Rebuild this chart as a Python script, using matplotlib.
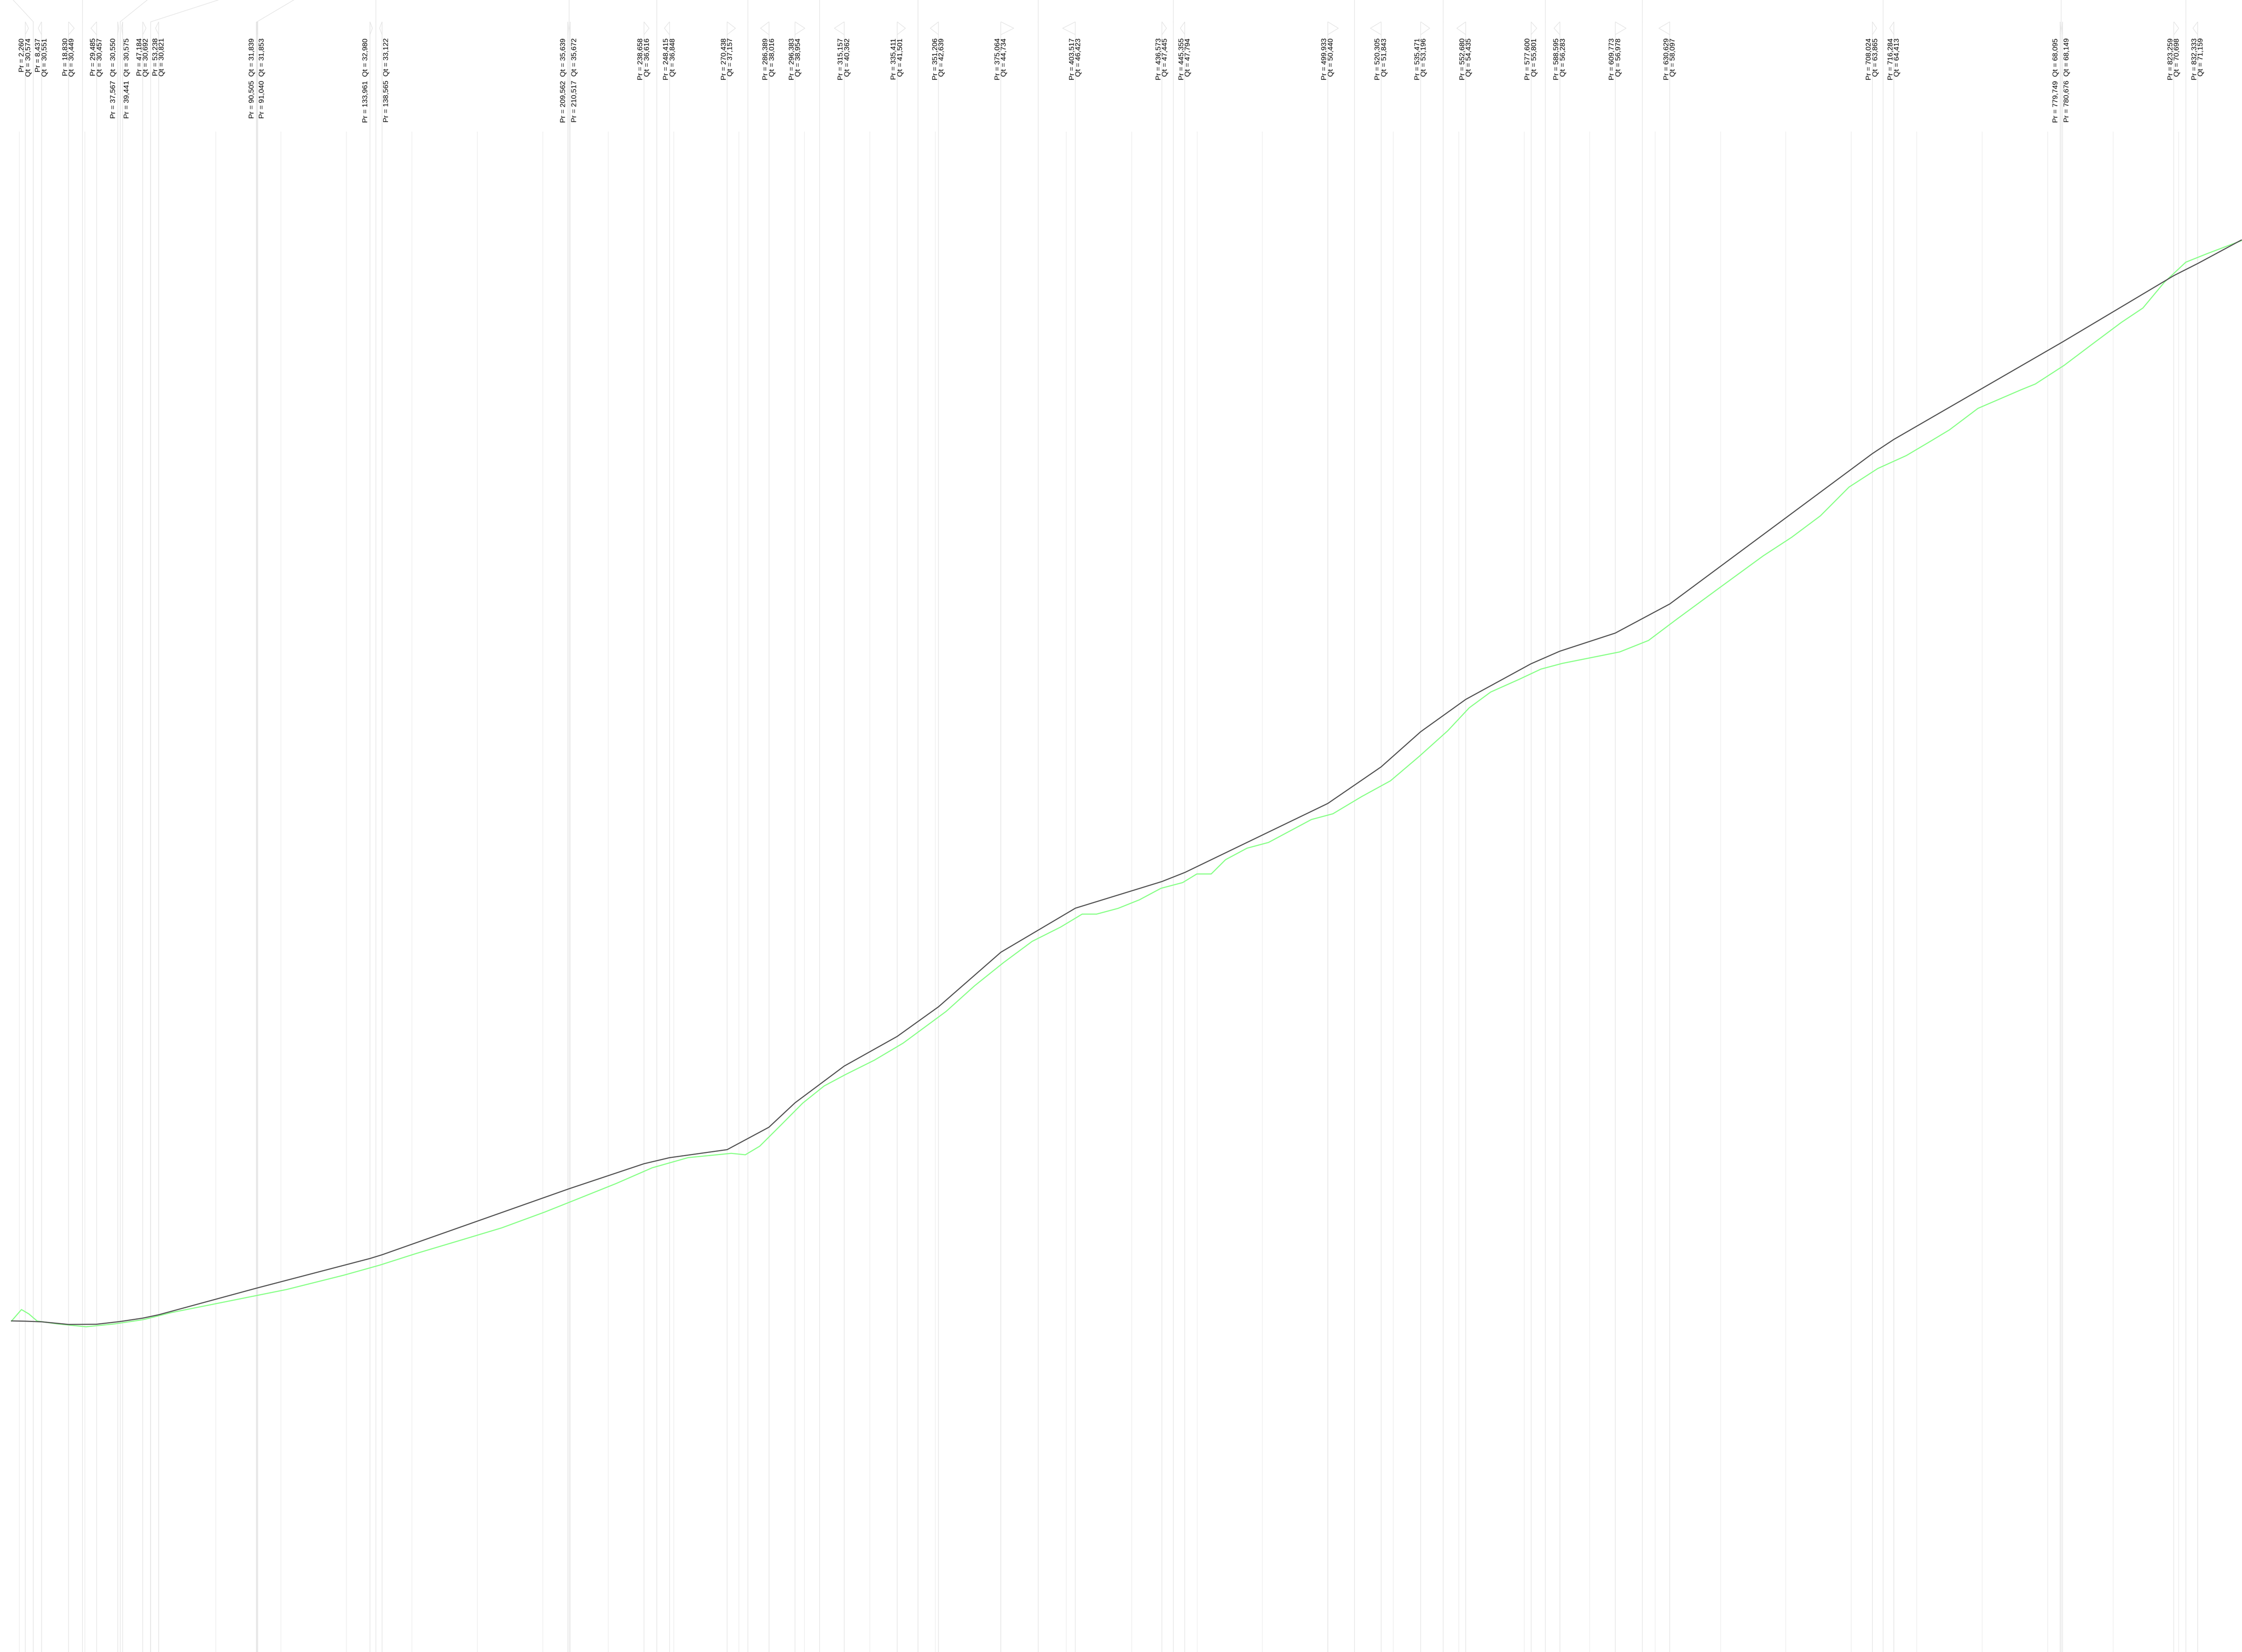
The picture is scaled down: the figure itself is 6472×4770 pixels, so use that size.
import numpy as np
import matplotlib.pyplot as plt
from matplotlib.patches import Polygon

plt.rcParams['font.family'] = ['Liberation Sans', 'DejaVu Sans']

# labelled points, taken two at a time (left member, right member)
pr = [2260, 8437, 18830, 29485, 37567, 39441, 47184, 53238, 90505, 91040,
      133961, 138565, 209562, 210517, 238658, 248415, 270438, 286389, 296383, 315157,
      335411, 351206, 375064, 403517, 436573, 445355, 499933, 520305, 535471, 552680,
      577600, 588595, 609773, 630629, 708024, 716284, 779749, 780676, 823259, 832333]
qt = [30574, 30551, 30449, 30457, 30550, 30575, 30692, 30821, 31839, 31853,
      32980, 33122, 35639, 35672, 36616, 36848, 37157, 38016, 38954, 40362,
      41501, 42639, 44734, 46423, 47445, 47794, 50440, 51843, 53196, 54435,
      55801, 56283, 56978, 58097, 63865, 64413, 68095, 68149, 70698, 71159]

# ends of the dark line outside the labelled points
line_start = (-3000, 30585)
line_end = (849000, 72060)

# green series
green_pr = [-3000, 800, 3600, 6800, 14500, 25500, 36400, 47400, 58300, 74800,
            91200, 102100, 124000, 137700, 151400, 167900, 184300, 200700, 211700, 228100,
            241800, 255500, 272000, 277400, 282900, 291100, 299300, 307500, 315700, 326700,
            337700, 354100, 365000, 376000, 387000, 397900, 406100, 411600, 419800, 428000,
            436200, 444500, 449900, 455400, 460900, 469100, 477300, 485500, 493700, 501900,
            512900, 523900, 534800, 545800, 554000, 562200, 573200, 581400, 589600, 600600,
            611500, 622500, 633400, 649800, 666300, 677200, 688200, 699100, 710100, 721000,
            729300, 737500, 748400, 764900, 770300, 781300, 792200, 803200, 811400, 819600,
            827800, 836000, 849000]
green_qt = [30580, 31020, 30855, 30580, 30470, 30360, 30470, 30635, 30910, 31240,
            31570, 31790, 32340, 32725, 33165, 33660, 34155, 34760, 35200, 35860,
            36460, 36850, 37015, 36960, 37290, 38110, 38940, 39600, 40040, 40590,
            41245, 42460, 43445, 44330, 45150, 45700, 46195, 46195, 46415, 46745,
            47185, 47405, 47735, 47735, 48285, 48725, 48945, 49385, 49825, 50045,
            50705, 51310, 52240, 53232, 54112, 54717, 55210, 55597, 55817, 56037,
            56256, 56696, 57520, 58730, 59940, 60655, 61480, 62580, 63294, 63790,
            64283, 64778, 65603, 66317, 66537, 67252, 68077, 68902, 69452, 70441,
            71211, 71541, 72036]

# x grid of the panel
grid_pr = list(range(0, 850000, 25000))

# labels set on one line because the pair sits too close
one_line = {37567, 39441, 90505, 91040, 133961, 138565, 209562, 210517, 779749, 780676}

# where the link above a pair leaves the top edge (pixels), others go straight up
top_links = {0: 38, 2: 425, 3: 630, 4: 848}

W, H = 6472, 4770
XMIN, XMAX = -7400, 849270
YMIN, YMAX = 17880, 81272
GRID = '#e2e2e2'

fig = plt.figure(figsize=(W / 100, H / 100), dpi=100)
ax = fig.add_axes([0, 0, 1, 1])
ax.set_xlim(XMIN, XMAX)
ax.set_ylim(YMIN, YMAX)
ax.axis('off')

px = W / (XMAX - XMIN)          # pixels per unit of Pr
fy = lambda ypix: 1 - ypix / H  # pixel row from the top -> axes fraction
trans = ax.get_xaxis_transform()

ax.vlines(grid_pr, 0, fy(380), colors='#ececec', lw=1.1, transform=trans, zorder=0)

# vertical guides, flags and links for every pair
for k in range(len(pr) // 2):
    a, b = pr[2 * k], pr[2 * k + 1]
    mid = (a + b) / 2
    gap = (b - a) * px
    w = min(37, 0.2 * gap) / px
    ax.vlines([a, b, mid], 0, fy(63), colors=GRID, lw=1.1, transform=trans, zorder=1)
    top = top_links.get(k)
    tx = mid if top is None else XMIN + top / px
    ax.plot([mid, tx], [fy(63), 1], color=GRID, lw=1.1, transform=trans, zorder=1)
    for x0, d in ((a, 1), (b, -1)):
        tri = Polygon([(x0, fy(63)), (x0 + d * w, fy(81.5)), (x0, fy(100))],
                      closed=False, fill=False, edgecolor=GRID, lw=1.1,
                      transform=trans, zorder=1)
        ax.add_patch(tri)

# series
ax.plot(green_pr, green_qt, color='#86ff86', lw=2.2, zorder=3)
ax.plot([line_start[0]] + pr + [line_end[0]], [line_start[1]] + qt + [line_end[1]],
        color='#505050', lw=2.2, zorder=4)

# labels
for i, (p, q) in enumerate(zip(pr, qt)):
    if p in one_line:
        left = i % 2 == 0
        ax.annotate(f'Pr = {p:,}  Qt = {q:,}', xy=(p, fy(110)), xycoords=trans,
                    xytext=(-3 if left else 3, 0), textcoords='offset pixels',
                    rotation=90, ha='right' if left else 'left', va='top',
                    fontsize=15.1, color='black')
    else:
        ax.text(p, fy(110), f'Pr = {p:,}\nQt = {q:,}', transform=trans,
                rotation=90, ha='center', va='top', multialignment='right',
                linespacing=1.0, fontsize=15.1, color='black')

fig.savefig('out.png', dpi=100, facecolor='white')
